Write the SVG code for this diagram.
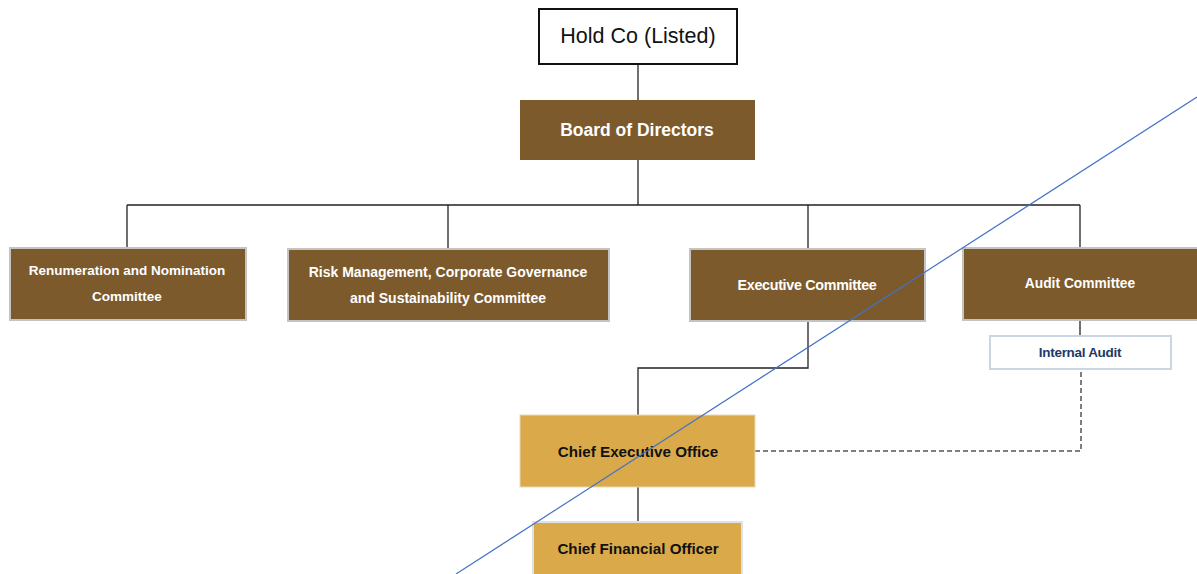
<svg xmlns="http://www.w3.org/2000/svg" width="1197" height="574" viewBox="0 0 1197 574">
<style>
.brown{fill:#7C5A2C;stroke:#C4C4C4;stroke-width:2}
.gold{fill:#DAAA4A;stroke:#E8D9B5;stroke-width:1}
.wt{font-family:"Liberation Sans",Arial,sans-serif;font-weight:bold;fill:#FFFFFF;text-anchor:middle;dominant-baseline:central}
.bt{font-family:"Liberation Sans",Arial,sans-serif;font-weight:bold;fill:#111111;text-anchor:middle;dominant-baseline:central}
.ln{stroke:#222222;stroke-width:1.3;fill:none}
</style>
<rect width="1197" height="574" fill="#FFFFFF"/>
<g id="connectors">
<path class="ln" d="M638 64V100"/>
<path class="ln" d="M638 160V205" stroke-width="2"/>
<path class="ln" d="M127 205H1080M127 205V247M448 205V248M808 205V248M1080 205V247"/>
<path class="ln" d="M1080 320V336"/>
<path class="ln" d="M808 321V368H638V415"/>
<path class="ln" d="M638 487V522"/>
<path d="M755 451H1081V372" fill="none" stroke="#555555" stroke-width="1.5" stroke-dasharray="5,3"/>
</g>
<g id="holdco">
<rect x="539" y="9" width="198" height="55" fill="#FFFFFF" stroke="#111111" stroke-width="2"/>
<text x="638" y="36" font-family="'Liberation Sans',Arial,sans-serif" font-size="21.5" fill="#111111" text-anchor="middle" dominant-baseline="central">Hold Co (Listed)</text>
</g>
<g id="board">
<rect x="520" y="100" width="235" height="60" fill="#7C5A2C"/>
<text class="wt" x="637" y="130" font-size="17.5">Board of Directors</text>
</g>
<g id="renumeration">
<rect class="brown" x="10" y="248" width="236" height="72"/>
<text class="wt" x="127" y="270" font-size="13.5">Renumeration  and Nomination</text>
<text class="wt" x="127" y="296" font-size="13.5">Committee</text>
</g>
<g id="risk">
<rect class="brown" x="288" y="249" width="321" height="72"/>
<text class="wt" x="448" y="272" font-size="14">Risk Management, Corporate Governance</text>
<text class="wt" x="448" y="298" font-size="14">and Sustainability Committee</text>
</g>
<g id="executive">
<rect class="brown" x="690" y="249" width="235" height="72"/>
<text class="wt" x="807" y="285" font-size="14.3" letter-spacing="-0.3">Executive Committee</text>
</g>
<g id="audit">
<rect class="brown" x="963" y="248" width="236" height="72"/>
<text class="wt" x="1080" y="283" font-size="13.8">Audit Committee</text>
</g>
<g id="internal-audit">
<rect x="990" y="336" width="181" height="33" fill="#FFFFFF" stroke="#CBD5E3" stroke-width="2"/>
<text x="1080" y="352" font-family="'Liberation Sans',Arial,sans-serif" font-weight="bold" font-size="13.5" fill="#1F3864" text-anchor="middle" dominant-baseline="central" letter-spacing="-0.3">Internal Audit</text>
</g>
<g id="ceo">
<rect class="gold" x="520" y="415" width="235" height="72"/>
<text class="bt" x="638" y="451" font-size="15.2">Chief Executive  Office</text>
</g>
<g id="cfo">
<rect x="533" y="522" width="209" height="56" fill="#DAAA4A" stroke="#DDE1E8" stroke-width="2"/>
<text class="bt" x="638" y="548" font-size="15.2">Chief Financial Officer</text>
</g>
<line x1="456" y1="574" x2="1197" y2="97" stroke="#4472C4" stroke-width="1.2"/>
</svg>
